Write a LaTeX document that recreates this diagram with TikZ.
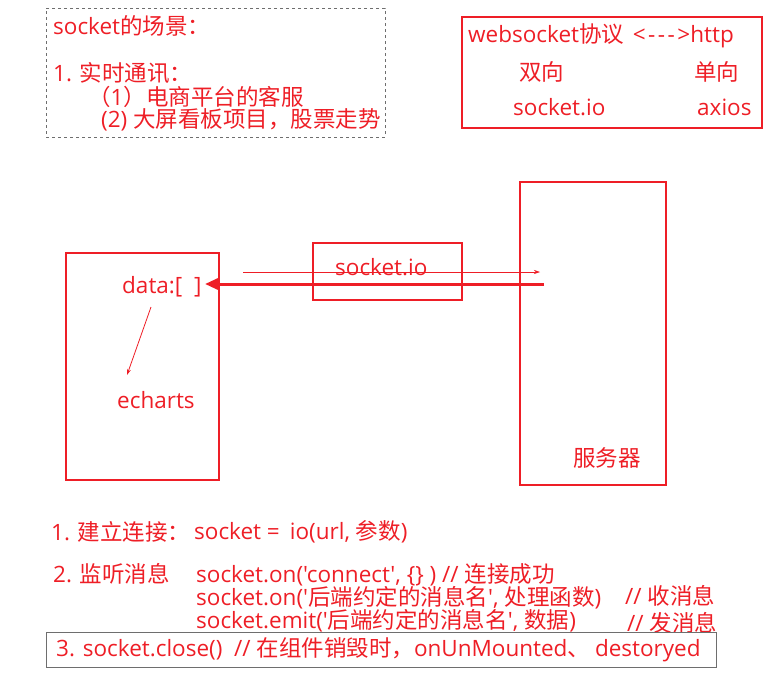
\documentclass[tikz,border=0pt]{standalone}
\usepackage{fontspec}
\setmainfont{Open Sans}[Ligatures=TeXOff]
\newfontfamily\latinfont{Open Sans}[Ligatures=TeXOff]
\newfontfamily\cjkfont{Noto Sans CJK SC}[Ligatures=TeXOff]
% switch to the CJK family for ideographs and full-width punctuation
\XeTeXinterchartokenstate=1
\newXeTeXintercharclass\cjkclass
\newcount\cjkcode
\cjkcode="3000
\loop
  \XeTeXcharclass\cjkcode=\cjkclass
  \advance\cjkcode by 1
\ifnum\cjkcode<"A000 \repeat
\cjkcode="FF00
\loop
  \XeTeXcharclass\cjkcode=\cjkclass
  \advance\cjkcode by 1
\ifnum\cjkcode<"FFF0 \repeat
\XeTeXinterchartoks 0 \cjkclass = {\cjkfont}
\XeTeXinterchartoks 4095 \cjkclass = {\cjkfont}
\XeTeXinterchartoks \cjkclass 0 = {\latinfont}
\XeTeXinterchartoks 4095 0 = {\latinfont}
\usetikzlibrary{arrows.meta}
\definecolor{penred}{RGB}{238,30,38}
\definecolor{framegray}{RGB}{110,110,110}
\tikzset{
  note/.style={anchor=west, inner sep=0pt, text=penred,
               font=\fontsize{22.5}{26}\selectfont},
  redbox/.style={draw=penred, line width=#1, inner sep=0pt},
  graybox/.style={draw=framegray, line width=1pt, inner sep=0pt},
  thinarr/.style={-{Stealth[length=6pt, width=4pt]}, draw=penred, line width=0.8pt},
  fatarr/.style={-{Triangle[length=13pt, width=11pt]}, draw=penred, line width=3pt},
}
\begin{document}
\begin{tikzpicture}[x=1pt, y=-1pt]
  \useasboundingbox (0,0) rectangle (766,678);

  % scene list
  \node[graybox, dashed, minimum width=339, minimum height=129] (scenes) at (215.5,72.5) {};
  \node[note] (scenetitle) at (53,26) {socket的场景：};
  \node[note] (realtime) at (53,73) {1. 实时通讯：};
  \node[note] (service) at (88,97) {（1）电商平台的客服};
  \node[note] (screen) at (101,120) {(2) 大屏看板项目，股票走势};

  % websocket vs http
  \node[redbox=1.6pt, minimum width=300, minimum height=111] (compare) at (612,72.5) {};
  \node[note] (protocol) at (468,36)
    {websocket协议 \,<\kern2.5pt-\kern2.5pt-\kern2.5pt-\kern2.5pt>http};
  \node[note] (twoway) at (519,72) {双向};
  \node[note] (oneway) at (694,72) {单向};
  \node[note] (sockio) at (513,107) {socket.io};
  \node[note] (axios) at (697,107) {axios};

  % client / socket.io / server
  \node[redbox=2pt, minimum width=153, minimum height=227] (client) at (142.5,366.5) {};
  \node[note] (data) at (122,287) {data:[\ \ ]};
  \node[note] (chart) at (117,400) {echarts};
  \node[redbox=2pt, minimum width=149, minimum height=57] (bridge) at (387.5,271.5) {};
  \node[note] (bridgelbl) at (335,267) {socket.io};
  \node[redbox=2pt, minimum width=146, minimum height=303] (server) at (593,333.5) {};
  \node[note] (serverlbl) at (573,458) {服务器};

  \coordinate (dataout) at (151,307);
  \coordinate (chartin) at (127,375);
  \coordinate (sendfrom) at (243,272);
  \coordinate (sendto) at (540,272);
  \coordinate (pushfrom) at (544,284);
  \coordinate (pushto) at (205,284);

  \draw[thinarr] (dataout) -- (chartin);
  \draw[thinarr, line width=0.6pt] (sendfrom) -- (sendto);
  \draw[fatarr] (pushfrom) -- (pushto);

  % usage steps
  \node[note] (connect) at (51,532) {1. 建立连接：};
  \node[note] (connectcode) at (194,532) {socket =\hspace{10pt}io(url, 参数)};
  \node[note] (listen) at (53,574) {2. 监听消息};
  \node[note] (onconnect) at (196,575) {socket.on('connect', \{\} ) // 连接成功};
  \node[note] (onmsg) at (196,598) {socket.on('后端约定的消息名', 处理函数)};
  \node[note] (recvnote) at (625,596) {// 收消息};
  \node[note] (emitmsg) at (196,621) {socket.emit('后端约定的消息名', 数据)};
  \node[note] (sendnote) at (627,623) {// 发消息};
  \node[graybox, minimum width=670, minimum height=35] (closebox) at (381,649.5) {};
  \node[note] (close) at (56,650) {3. socket.close()\ \ // 在组件销毁时，onUnMounted、 destoryed};
\end{tikzpicture}
\end{document}
